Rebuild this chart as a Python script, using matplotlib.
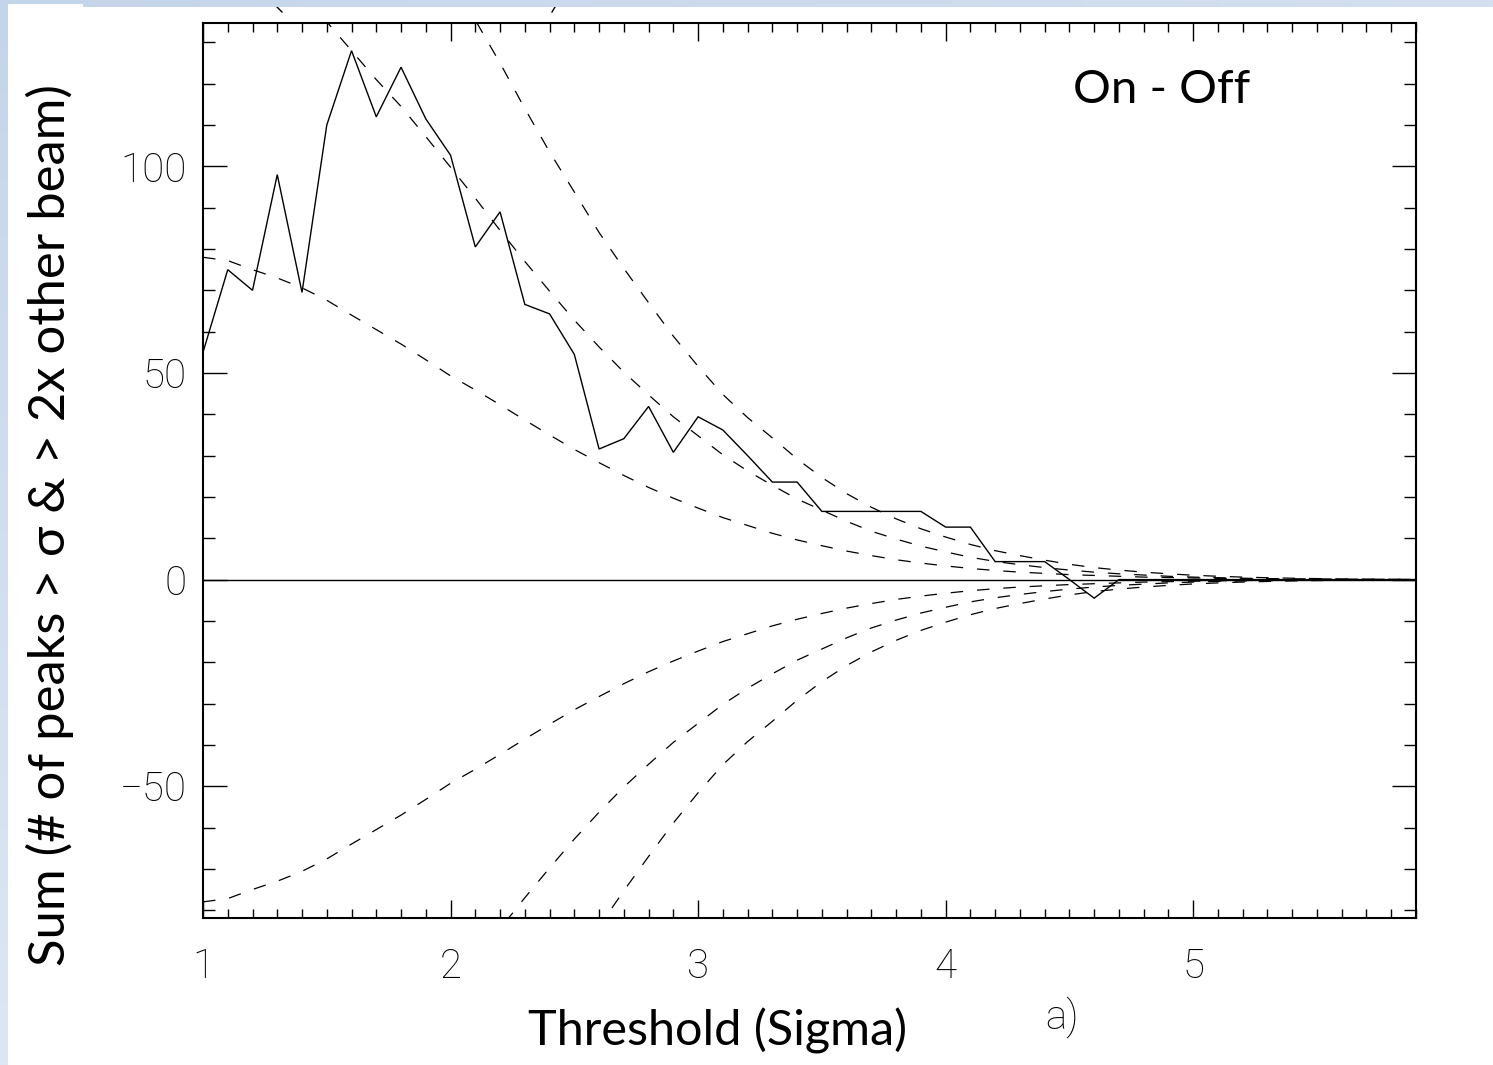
import numpy as np
import matplotlib
matplotlib.use("Agg")
import matplotlib.pyplot as plt
from matplotlib.ticker import MultipleLocator, FixedLocator
from matplotlib.patches import Rectangle
from matplotlib.lines import Line2D

# ---------------- data ----------------
threshold = [1.0, 1.1, 1.2, 1.3, 1.4, 1.5, 1.6, 1.7, 1.8, 1.9,
             2.0, 2.1, 2.2, 2.3, 2.4, 2.5, 2.6, 2.7, 2.8, 2.9,
             3.0, 3.1, 3.2, 3.3, 3.4, 3.5, 3.6, 3.7, 3.8, 3.9,
             4.0, 4.1, 4.2, 4.3, 4.4, 4.5, 4.6, 4.7, 4.8, 4.9,
             5.0, 5.1, 5.2, 5.3, 5.4, 5.5, 5.6, 5.7, 5.8, 5.9]

sum_on_off = [55, 75, 70, 98, 69.5, 110, 128, 112, 124, 111.5,
              102.7, 80.5, 89, 66.6, 64.3, 54.5, 31.6, 34.1, 41.9, 30.8,
              39.4, 36.2, 30, 23.6, 23.6, 16.5, 16.5, 16.5, 16.5, 16.5,
              12.7, 12.7, 4.35, 4.35, 4.35, 0, -4.5, 0, 0, 0,
              0, 0, 0, 0, 0, 0, 0, 0, 0, 0]

# noise envelopes (positive branch; the negative branch is the mirror)
env_low = [78, 77.2, 75.0, 73.0, 70.6, 67.6, 64.0, 60.5, 57.0, 53.2,
           49.3, 45.9, 42.3, 38.6, 35.0, 31.5, 28.3, 25.2, 22.3, 19.7,
           17.3, 15.0, 13.1, 11.2, 9.6, 8.2, 6.9, 5.8, 4.8, 4.0,
           3.3, 2.7, 2.2, 1.8, 1.5, 1.2, 1.0, 0.8, 0.6, 0.5,
           0.4, 0.3, 0.22, 0.16, 0.12, 0.08, 0.06, 0.04, 0.03, 0.02]

env_mid_start = 4   # starts at threshold 1.4
env_mid = [141, 135, 128, 121, 114.5, 107.2,
           99.8, 92.3, 84.5, 77, 69.8, 62.8, 56.3, 50.2, 44.7, 39.4,
           34.8, 30.2, 26.3, 22.8, 19.5, 16.8, 14.1, 11.7, 9.8, 8.1,
           6.7, 5.4, 4.4, 3.6, 2.9, 2.3, 1.8, 1.4, 1.1, 0.8,
           0.6, 0.45, 0.33, 0.24, 0.17, 0.12, 0.08, 0.05, 0.03, 0.02]

env_high_start = 10  # starts at threshold 2.0
env_high = [146, 135.4, 125, 114, 103.5, 93.8, 84, 75.3, 67, 58.9,
            51.6, 44.8, 39.2, 34.3, 29.2, 24.7, 20.8, 17.5, 14.7, 12.3,
            10.3, 8.5, 7.0, 5.8, 4.7, 3.7, 2.9, 2.3, 1.8, 1.4,
            1.05, 0.8, 0.6, 0.45, 0.33, 0.24, 0.17, 0.12, 0.08, 0.05]

x_ticks = [1, 2, 3, 4, 5]
y_ticks = [-50, 0, 50, 100]

# ---------------- figure ----------------
plt.rcParams['lines.scale_dashes'] = False
W, H = 1493, 1065
fig = plt.figure(figsize=(W / 100, H / 100), dpi=100)
fig.patch.set_facecolor('white')

# slide decoration: light-blue bands at left and top
left_ax = fig.add_axes([0, 0, 8 / W, 1], zorder=-5)
grad_v = np.linspace(0, 1, 256).reshape(-1, 1)
c_top = np.array([197, 213, 233]) / 255
c_bot = np.array([221, 231, 243]) / 255
img_v = c_top[None, None, :] * (1 - grad_v[..., None]) + c_bot[None, None, :] * grad_v[..., None]
left_ax.imshow(img_v, aspect='auto', extent=[0, 1, 0, 1], origin='upper')
left_ax.set_axis_off()

top_ax = fig.add_axes([0, 1 - 7 / H, 1, 7 / H], zorder=10)
grad_h = np.linspace(0, 1, 256).reshape(1, -1)
c_l = np.array([197, 213, 233]) / 255
c_r = np.array([212, 224, 239]) / 255
img_h = c_l[None, None, :] * (1 - grad_h[..., None]) + c_r[None, None, :] * grad_h[..., None]
top_ax.imshow(img_h, aspect='auto', extent=[0, W, 0, 7], origin='upper')
top_ax.add_patch(Rectangle((8, 0), 75, 3, facecolor='white', edgecolor='none'))
top_ax.set_xlim(0, W)
top_ax.set_ylim(0, 7)
top_ax.set_axis_off()

# remnants of a cut-off title (bottom tips of its brackets) above the plot
for (xa, ya), (xb, yb) in [((277, 7), (282, 12)), ((555, 7), (552, 12))]:
    fig.add_artist(Line2D([xa / W, xb / W], [1 - ya / H, 1 - yb / H],
                          transform=fig.transFigure, color='black', lw=1.0))

lab_font = ['Lato', 'DejaVu Sans']

# main axes
ax = fig.add_axes([203 / W, 1 - 918 / H, (1416 - 203) / W, (918 - 23) / H])
x = np.array(threshold)
ax.plot(x, sum_on_off, color='black', lw=1.0, solid_joinstyle='miter')
ax.axhline(0, color='black', lw=1.0)

dash = (9.0, 10.0)
for start, env in [(0, env_low), (env_mid_start, env_mid), (env_high_start, env_high)]:
    xe = x[start:start + len(env)]
    ev = np.array(env)
    ax.plot(xe, ev, color='black', lw=0.9, dashes=dash)
    ax.plot(xe, -ev, color='black', lw=0.9, dashes=dash)

ax.set_xlim(1, 5.9)
ax.set_ylim(-81.9, 134.7)

ax.xaxis.set_major_locator(FixedLocator(x_ticks))
ax.xaxis.set_minor_locator(MultipleLocator(0.1))
ax.yaxis.set_major_locator(FixedLocator(y_ticks))
ax.yaxis.set_minor_locator(MultipleLocator(10))
ax.set_xticklabels([str(t) for t in x_ticks])
ax.set_yticklabels([str(t).replace('-', '\u2212') for t in y_ticks])

ax.tick_params(axis='both', which='both', direction='in', top=True, right=True,
               width=1.0, color='black')
ax.tick_params(axis='x', which='major', length=13, pad=21)
ax.tick_params(axis='x', which='minor', length=6.5)
ax.tick_params(axis='y', which='major', length=17.3, pad=11.5)
ax.tick_params(axis='y', which='minor', length=8.6)

tick_font = ['Roboto', 'DejaVu Sans']
for lbl in ax.get_xticklabels() + ax.get_yticklabels():
    lbl.set_family(tick_font)
    lbl.set_fontweight('light')
    lbl.set_fontsize(29)

for sp in ax.spines.values():
    sp.set_linewidth(1.5)

# labels
fig.text(718 / W, 1 - 1031 / H, "Threshold (Sigma)", fontsize=35, family=lab_font,
         ha='center', va='center')
fig.text(50 / W, 1 - 525 / H, "Sum (# of peaks > \u03c3 & > 2x other beam)", fontsize=36.5,
         family=lab_font, rotation=90, ha='center', va='center')
fig.text(1073 / W, 1 - 103 / H, "On - Off", fontsize=34, family=lab_font,
         ha='left', va='baseline')
fig.text(1062 / W, 1 - 1017 / H, "a)", fontsize=29, family=tick_font, fontweight='light',
         ha='center', va='center')

fig.savefig("out.png", dpi=100)
